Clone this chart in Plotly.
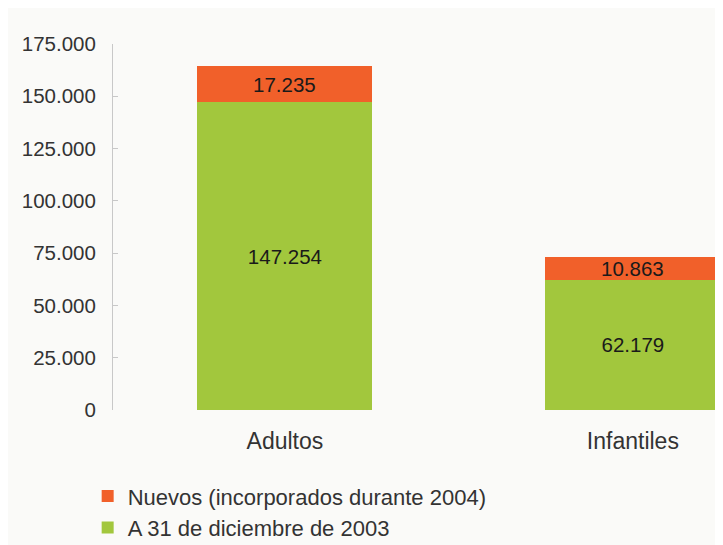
import plotly.graph_objects as go

categories = ["Adultos", "Infantiles"]
base_2003 = [147254, 62179]
nuevos_2004 = [17235, 10863]
series_names = ["A 31 de diciembre de 2003", "Nuevos (incorporados durante 2004)"]
tick_vals = [0, 25000, 50000, 75000, 100000, 125000, 150000, 175000]

FONT = "Liberation Sans, Arial, sans-serif"
LBL = 20.5

def fmt(v):
    return f"{v:,d}".replace(",", ".")

fig = go.Figure()
fig.add_trace(go.Bar(
    x=categories, y=base_2003, name=series_names[0],
    marker=dict(color="#a2c73d", line=dict(width=0)),
    texttemplate="%{y:,d}", textposition="inside", insidetextanchor="middle",
    textfont=dict(color="#1a1a1a", size=LBL, family=FONT),
    width=0.503,
))
fig.add_trace(go.Bar(
    x=categories, y=nuevos_2004, name=series_names[1],
    marker=dict(color="#f1602a", line=dict(width=0)),
    textposition="none",
    width=0.503,
))
for c, b, n in zip(categories, base_2003, nuevos_2004):
    fig.add_annotation(x=c, y=b + n / 2, text=fmt(n), showarrow=False,
                       font=dict(color="#1a1a1a", size=LBL, family=FONT),
                       xref="x", yref="y")

fig.update_layout(
    barmode="stack",
    width=723, height=545,
    margin=dict(l=105, r=0, t=36, b=143),
    paper_bgcolor="#fafaf8",
    plot_bgcolor="#fafaf8",
    separators=",.",
    font=dict(family=FONT, size=LBL, color="#333333"),
    showlegend=True,
    legend=dict(
        orientation="v", traceorder="reversed",
        x=-0.041, xanchor="left", y=-0.178, yanchor="top",
        font=dict(size=22, color="#333333", family=FONT),
        bgcolor="rgba(0,0,0,0)", itemwidth=30, tracegroupgap=0,
    ),
)
fig.update_xaxes(
    range=[-0.494, 1.282],
    showline=False, showgrid=False, zeroline=False,
    ticks="outside", ticklen=10, tickcolor="rgba(0,0,0,0)",
    tickfont=dict(size=23, color="#333333"),
)
fig.update_yaxes(
    range=[0, 175000], tickvals=tick_vals, tickformat=",d",
    showline=True, linecolor="#c8c8c8", linewidth=1,
    showgrid=False, zeroline=False,
    ticks="inside", ticklen=5, tickcolor="#c8c8c8",
    ticklabelstandoff=12,
    tickfont=dict(size=LBL, color="#333333"),
)

fig.write_html("out.html")
